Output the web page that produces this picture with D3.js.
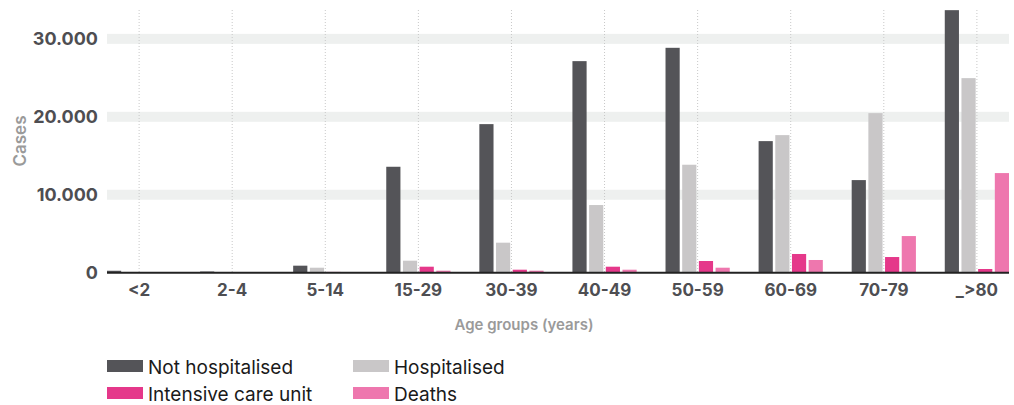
<!DOCTYPE html>
<html>
<head>
<meta charset="utf-8">
<script src="https://cdn.jsdelivr.net/npm/d3@7"></script>
<style>
  body { margin: 0; background: #fff; }
  svg { display: block; font-family: Inter, "Noto Sans", sans-serif; }
</style>
</head>
<body>
<svg id="chart" width="1014" height="405"></svg>
<script>
// age groups and the four series (cases)
var ageGroups = ['<2', '2-4', '5-14', '15-29', '30-39', '40-49', '50-59', '60-69', '70-79', '_>80'];
var seriesNames = ['Not hospitalised', 'Hospitalised', 'Intensive care unit', 'Deaths'];
var notHospitalised = [250, 150, 900, 13590, 19060, 27140, 28850, 16880, 11880, 33680];
var hospitalised = [100, 80, 640, 1540, 3850, 8680, 13850, 17650, 20470, 24960];
var icu = [60, 50, 100, 770, 385, 770, 1500, 2400, 2010, 475];
var deaths = [40, 20, 50, 260, 260, 385, 640, 1630, 4700, 12780];
var yTicks = [0, 10000, 20000, 30000];

var colors = ['#545458', '#c9c7c8', '#e5388a', '#ee77ae'];

var svg = d3.select('#chart');
var plotLeft = 107, plotRight = 1009, plotTop = 10, plotBottom = 272.7;

// build rows from the arrays
var rows = ageGroups.map(function(g, i) {
  return { group: g, values: [notHospitalised[i], hospitalised[i], icu[i], deaths[i]] };
});

var x0 = d3.scaleBand().domain(ageGroups).range([plotLeft, plotRight]).paddingInner(0.31).paddingOuter(0);
var x1 = d3.scaleBand().domain(d3.range(4)).range([0, x0.bandwidth()]).paddingInner(0.15);
var y = d3.scaleLinear().domain([0, 33700]).range([plotBottom, plotTop]);

// grid bands
svg.append('g').selectAll('rect')
  .data(yTicks.filter(function(d) { return d > 0; }))
  .join('rect')
  .attr('x', plotLeft).attr('width', plotRight - plotLeft)
  .attr('y', function(d) { return y(d) - 5; })
  .attr('height', 10)
  .attr('fill', '#eef0ef');

// dotted vertical lines at group centres
svg.append('g').selectAll('line')
  .data(ageGroups)
  .join('line')
  .attr('x1', function(d) { return x0(d) + x0.bandwidth() / 2; })
  .attr('x2', function(d) { return x0(d) + x0.bandwidth() / 2; })
  .attr('y1', plotTop).attr('y2', plotBottom)
  .attr('stroke', '#c8c8c8').attr('stroke-width', 1)
  .attr('stroke-dasharray', '1,2');

// bars
svg.append('g').selectAll('g')
  .data(rows)
  .join('g')
  .attr('transform', function(d) { return 'translate(' + x0(d.group) + ',0)'; })
  .selectAll('rect')
  .data(function(d) { return d.values; })
  .join('rect')
  .attr('x', function(d, i) { return x1(i); })
  .attr('width', x1.bandwidth())
  .attr('y', function(d) { return y(d); })
  .attr('height', function(d) { return plotBottom - y(d); })
  .attr('fill', function(d, i) { return colors[i]; });

// baseline
svg.append('line')
  .attr('x1', plotLeft).attr('x2', plotRight)
  .attr('y1', plotBottom).attr('y2', plotBottom)
  .attr('stroke', '#222').attr('stroke-width', 2);

// y axis labels
var yAxis = d3.axisLeft(y).tickValues(yTicks).tickSize(0).tickPadding(0)
  .tickFormat(function(d) { return d3.format(',')(d).replace(/,/g, '.'); });
var gy = svg.append('g').attr('transform', 'translate(98,0)').call(yAxis);
gy.select('.domain').remove();
gy.selectAll('text')
  .attr('fill', '#4e4e52').attr('font-size', 18).attr('font-weight', 700)
  .attr('font-family', 'Inter, sans-serif');

// x axis labels
var xAxis = d3.axisBottom(x0).tickSize(0).tickPadding(0);
var gx = svg.append('g').attr('transform', 'translate(0,' + 284 + ')').call(xAxis);
gx.select('.domain').remove();
gx.selectAll('text')
  .attr('fill', '#4e4e52').attr('font-size', 17).attr('font-weight', 700)
  .attr('font-family', 'Inter, sans-serif');

// axis titles
svg.append('text')
  .attr('transform', 'translate(26,141) rotate(-90)')
  .attr('text-anchor', 'middle')
  .attr('fill', '#9a9a9a').attr('font-size', 17).attr('font-weight', 600)
  .text('Cases');

svg.append('text')
  .attr('x', 524).attr('y', 330)
  .attr('text-anchor', 'middle')
  .attr('fill', '#9a9a9a').attr('font-size', 15).attr('font-weight', 600)
  .text('Age groups (years)');

// legend
var legend = svg.append('g').selectAll('g')
  .data(seriesNames)
  .join('g')
  .attr('transform', function(d, i) {
    return 'translate(' + (107 + (i % 2) * 246) + ',' + (374 + Math.floor(i / 2) * 27) + ')';
  });
legend.append('rect')
  .attr('x', 0).attr('y', -14).attr('width', 36).attr('height', 12)
  .attr('fill', function(d, i) { return colors[i]; });
legend.append('text')
  .attr('x', 41).attr('y', 0)
  .attr('fill', '#1a1a1a').attr('font-size', 19)
  .text(function(d) { return d; });
</script>
</body>
</html>
